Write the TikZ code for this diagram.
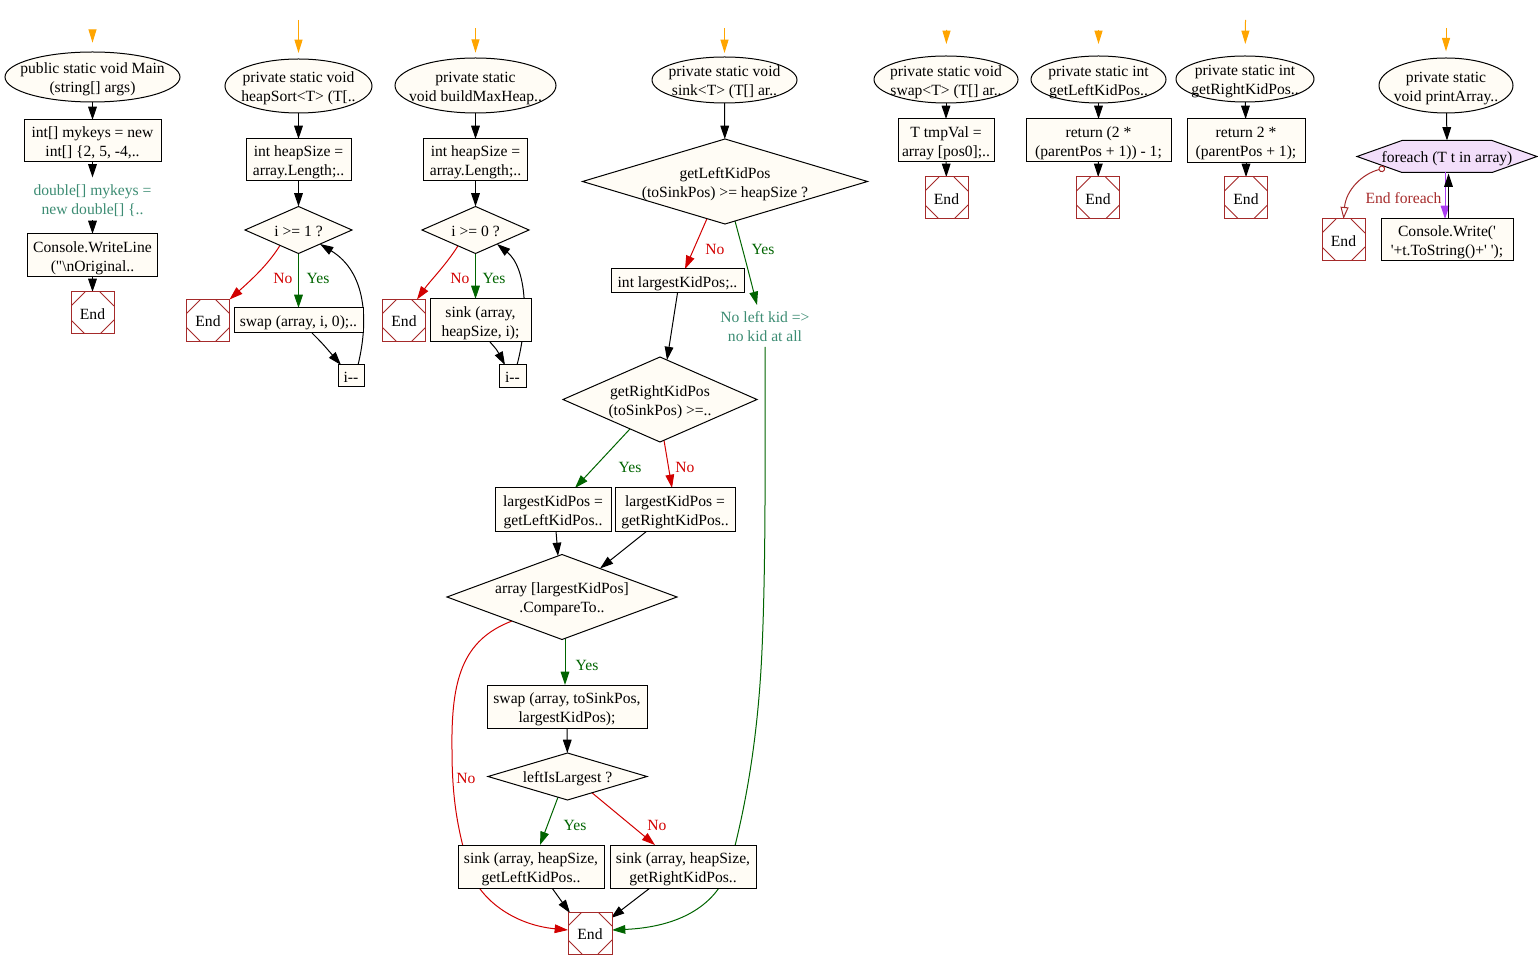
\documentclass[tikz,border=0pt]{standalone}
\usepackage{fontspec}
\setmainfont{Liberation Serif}
\usetikzlibrary{shapes.geometric,arrows.meta,calc}
\pgfdeclarelayer{bg}
\pgfsetlayers{bg,main}
\definecolor{nodefill}{RGB}{255,252,245}
\definecolor{hexfill}{RGB}{242,222,250}
\definecolor{endbrown}{RGB}{165,42,42}
\definecolor{tealtext}{RGB}{60,140,115}
\definecolor{noRed}{RGB}{210,0,0}
\definecolor{yesGreen}{RGB}{0,100,0}
\definecolor{startOrange}{RGB}{255,165,0}
\definecolor{loopPurple}{RGB}{170,60,240}
\newcommand\tx[1]{\raisebox{\dimexpr-0.25em-1.9pt\relax}[0pt][0pt]{\makebox[0pt]{\begin{tabular}{@{}c@{}}#1\end{tabular}}}}
\newcommand\nf{\fontsize{11.7}{14.25}\selectfont}
\tikzset{
  base/.style={inner sep=0pt, outer sep=0pt, font=\nf},
  wh/.style 2 args={minimum width=#1*0.75pt, minimum height=#2*0.75pt},
  box/.style={base, rectangle, draw=black, fill=nodefill, line width=0.75pt},
  ell/.style={base, ellipse, draw=black, fill=nodefill, line width=0.75pt},
  dia/.style={base, diamond, draw=black, fill=nodefill, line width=0.75pt},
  plain/.style={base, text=tealtext},
  lab/.style={base, text=#1},
  endbox/.style={base, rectangle, draw=endbrown, fill=white, line width=0.75pt,
    minimum width=43*0.75pt, minimum height=42*0.75pt,
    path picture={
      \draw[endbrown, line width=0.6pt]
        ([yshift=-10.5pt]path picture bounding box.north west) -- ([xshift=10.5pt]path picture bounding box.north west)
        ([xshift=-10.5pt]path picture bounding box.north east) -- ([yshift=-10.5pt]path picture bounding box.north east)
        ([yshift=10.5pt]path picture bounding box.south east) -- ([xshift=-10.5pt]path picture bounding box.south east)
        ([xshift=10.5pt]path picture bounding box.south west) -- ([yshift=10.5pt]path picture bounding box.south west);}},
  arr/.style={line width=0.75pt, -{Triangle[length=10pt,width=6.5pt]}},
  blk/.style={arr, color=black},
  redE/.style={arr, color=noRed},
  grnE/.style={arr, color=yesGreen},
  oarr/.style={line width=0.75pt, color=startOrange, -{Triangle[length=10pt,width=6pt]}},
}
\begin{document}
\begin{tikzpicture}[x=0.75pt,y=-0.75pt]
\useasboundingbox (0,0) rectangle (1538,969);

% ---------- column 1: Main ----------
\coordinate (s1) at (92.5,30);
\node[ell, wh={175}{50}] (e1) at (92.5,77) {\tx{public static void Main\\(string[] args)}};
\node[box, wh={137}{42}] (b11) at (92.5,141) {\tx{int[] mykeys = new\\int[] \{2, 5, -4,..}};
\node[plain, wh={130}{43}] (t12) at (92.5,199) {\tx{double[] mykeys =\\new double[] \{..}};
\node[box, wh={130}{43}] (b13) at (92.5,255.5) {\tx{Console.WriteLine\\(\textquotedbl\textbackslash nOriginal..}};
\node[endbox] (x1) at (92.5,313) {\tx{End}};

% ---------- column 2: heapSort ----------
\coordinate (s2) at (298.5,20);
\node[ell, wh={147}{54}] (e2) at (298.5,86) {\tx{private static void\\heapSort<T> (T[..}};
\node[box, wh={105}{42}] (b21) at (298.5,160) {\tx{int heapSize =\\array.Length;..}};
\node[dia, wh={107}{47}] (d21) at (298.5,230) {\tx{i >= 1 ?}};
\node[endbox] (x2) at (208,320.5) {\tx{End}};
\node[box, wh={129}{25}] (b22) at (298.5,320.5) {\tx{swap (array, i, 0);..}};
\node[box, wh={26}{22}] (b23) at (351,376) {\tx{i-\kern0pt-}};

% ---------- column 3: buildMaxHeap ----------
\coordinate (s3) at (475.5,28);
\node[ell, wh={161}{55}] (e3) at (475.5,85.5) {\tx{private static\\void buildMaxHeap..}};
\node[box, wh={104}{42}] (b31) at (475.5,160) {\tx{int heapSize =\\array.Length;..}};
\node[dia, wh={107}{47}] (d31) at (475.5,230) {\tx{i >= 0 ?}};
\node[endbox] (x3) at (404,320.5) {\tx{End}};
\node[box, wh={101}{43}] (b32) at (480.5,320.5) {\tx{sink (array,\\heapSize, i);}};
\node[box, wh={27}{23}] (b33) at (512.5,376.5) {\tx{i-\kern0pt-}};

% ---------- column 4: sink ----------
\coordinate (s4) at (724.5,28);
\node[ell, wh={145}{46}] (e4) at (724.5,80) {\tx{private static void\\sink<T> (T[] ar..}};
\node[dia, wh={285}{85}] (d41) at (725,181.5) {\tx{getLeftKidPos\\(toSinkPos) >= heapSize ?}};
\node[box, wh={133}{24}] (b41) at (677.5,281) {\tx{int largestKidPos;..}};
\node[plain, wh={100}{42}] (t41) at (765,326) {\tx{No left kid =>\\no kid at all}};
\node[dia, wh={194}{85}] (d42) at (660,399.5) {\tx{getRightKidPos\\(toSinkPos) >=..}};
\node[box, wh={116}{43}] (b42) at (553,509.5) {\tx{largestKidPos =\\getLeftKidPos..}};
\node[box, wh={120}{43}] (b43) at (675,509.5) {\tx{largestKidPos =\\getRightKidPos..}};
\node[dia, wh={230}{85}] (d43) at (562,597) {\tx{array [largestKidPos]\\.CompareTo..}};
\node[box, wh={160}{43}] (b44) at (567,706.5) {\tx{swap (array, toSinkPos,\\largestKidPos);}};
\node[dia, wh={159}{47}] (d44) at (567.5,776.5) {\tx{leftIsLargest ?}};
\node[box, wh={146}{43}] (b45) at (531,866.5) {\tx{sink (array, heapSize,\\getLeftKidPos..}};
\node[box, wh={146}{43}] (b46) at (683,866.5) {\tx{sink (array, heapSize,\\getRightKidPos..}};
\node[endbox, wh={44}{42}] (x4) at (590,933) {\tx{End}};

% ---------- column 5: swap ----------
\coordinate (s5) at (946.5,30);
\node[ell, wh={144}{47}] (e5) at (946,79.5) {\tx{private static void\\swap<T> (T[] ar..}};
\node[box, wh={96}{43}] (b51) at (946,140.5) {\tx{T tmpVal =\\array [pos0];..}};
\node[endbox] (x5) at (946.5,198) {\tx{End}};

% ---------- column 6: getLeftKidPos ----------
\coordinate (s6) at (1098.5,30);
\node[ell, wh={135}{47}] (e6) at (1098.5,79.5) {\tx{private static int\\getLeftKidPos..}};
\node[box, wh={145}{43}] (b61) at (1098.5,140.5) {\tx{return (2 *\\(parentPos + 1)) - 1;}};
\node[endbox] (x6) at (1098,198) {\tx{End}};

% ---------- column 7: getRightKidPos ----------
\coordinate (s7) at (1245.5,20);
\node[ell, wh={138}{46}] (e7) at (1245,79) {\tx{private static int\\getRightKidPos..}};
\node[box, wh={118}{44}] (b71) at (1246,141) {\tx{return 2 *\\(parentPos + 1);}};
\node[endbox] (x7) at (1246,198) {\tx{End}};

% ---------- column 8: printArray ----------
\coordinate (s8) at (1446,28);
\node[ell, wh={134}{55}] (e8) at (1446,85.5) {\tx{private static\\void printArray..}};
\node[base, wh={180}{32}] (fe) at (1447,156.5) {\tx{foreach (T t in array)}};
\node[box, wh={132}{42}] (b81) at (1447,240) {\tx{Console.Write(\textquotesingle\\\textquotesingle+t.ToString()+\textquotesingle\ \textquotesingle);}};
\node[endbox] (x8) at (1343.5,240) {\tx{End}};

% ---------- edge labels ----------
\node[lab=noRed] (l21) at (283,277.5) {\tx{No}};
\node[lab=yesGreen] (l22) at (318,277.5) {\tx{Yes}};
\node[lab=noRed] (l31) at (460,277.5) {\tx{No}};
\node[lab=yesGreen] (l32) at (494,277.5) {\tx{Yes}};
\node[lab=noRed] (l41) at (715,248) {\tx{No}};
\node[lab=yesGreen] (l42) at (763,248) {\tx{Yes}};
\node[lab=yesGreen] (l43) at (630,466) {\tx{Yes}};
\node[lab=noRed] (l44) at (685,466) {\tx{No}};
\node[lab=yesGreen] (l45) at (587,664) {\tx{Yes}};
\node[lab=noRed] (l46) at (466,777) {\tx{No}};
\node[lab=yesGreen] (l47) at (575,824) {\tx{Yes}};
\node[lab=noRed] (l48) at (657,824) {\tx{No}};
\node[lab=endbrown] (l81) at (1403.5,197) {\tx{End foreach}};

\begin{pgfonlayer}{bg}
% hexagon of the foreach node
\filldraw[fill=hexfill, draw=black, line width=0.75pt]
  (fe.west) -- ($(fe.north west)+(45,0)$) -- ($(fe.north east)+(-45,0)$) -- (fe.east)
  -- ($(fe.south east)+(-45,0)$) -- ($(fe.south west)+(45,0)$) -- cycle;

% start arrows
\draw[oarr, shorten >=7pt] (s1) -- (e1);
\draw[oarr, shorten >=4.5pt] (s2) -- (e2);
\draw[oarr, shorten >=4pt] (s3) -- (e3);
\draw[oarr, shorten >=3pt] (s4) -- (e4);
\draw[oarr, shorten >=9pt] (s5) -- (e5);
\draw[oarr, shorten >=9pt] (s6) -- (e6);
\draw[oarr, shorten >=9pt] (s7) -- (e7);
\draw[oarr, shorten >=5pt] (s8) -- (e8);

% column 1
\draw[blk] (e1) -- (b11);
\draw[blk] (b11) -- (t12);
\draw[blk] (t12) -- (b13);
\draw[blk] (b13) -- (x1);

% column 2
\draw[blk] (e2) -- (b21);
\draw[blk] (b21) -- (d21);
\draw[redE] ($(d21)+(-18.5,15.4)$) .. controls (268,265) and (250,281) .. (x2.north east);
\draw[grnE] (d21.south) -- (b22.north);
\draw[blk] ($(b22.south)+(13.5,0)$) .. controls (322,343) .. ($(b23.north)+(-10,0)$);
\draw[blk] ($(b23.north)+(7,0)$) .. controls (369,320) and (366,272) .. ($(d21)+(21.5,14)$);

% column 3
\draw[blk] (e3) -- (b31);
\draw[blk] (b31) -- (d31);
\draw[redE] ($(d31)+(-17.5,15.8)$) .. controls (446,265) and (430,281) .. ($(x3.north)+(13,0)$);
\draw[grnE] (d31.south) -- (d31.south |- b32.north);
\draw[blk] ($(b32.south)+(9.5,0)$) .. controls (497,350) .. ($(b33.north)+(-7.5,0)$);
\draw[blk] ($(b33.north)+(4.5,0)$) .. controls (529,320) and (527,268) .. ($(d31)+(21.5,14)$);

% column 4
\draw[blk] (e4) -- (d41);
\draw[redE] ($(d41)+(-18,37.1)$) -- ($(b41.north)+(7.5,0)$);
\draw[grnE] ($(d41)+(10,39.5)$) .. controls (746,262) .. ($(t41.north)+(-8,0)$);
\draw[blk] (b41.south) -- ($(d42.north)+(7,3.1)$);
\draw[grnE] ($(d42)+(-30,29.4)$) -- ($(b42.north)+(22,0)$);
\draw[redE] ($(d42)+(4,40.8)$) -- ($(b43.north)+(-3,0)$);
\draw[blk] ($(b42.south)+(3,0)$) -- ($(d43.north)+(-4,1.5)$);
\draw[blk] ($(b43.south)+(-28,0)$) -- ($(d43)+(38,-28.5)$);
\draw[grnE] ($(d43)+(3,41.4)$) -- ($(b44.north)+(-2,0)$);
\draw[blk] (b44) -- (d44);
\draw[grnE] ($(d44)+(-9.5,20.7)$) -- ($(b45.north)+(9,0)$);
\draw[redE] ($(d44)+(24.5,16.3)$) -- ($(b46.north)+(-28,0)$);
\draw[blk] ($(b45.south)+(21,0)$) -- ($(x4.north west)+(2,1)$);
\draw[blk] ($(b46.south)+(-33,0)$) -- ($(x4.north east)+(-1,6)$);
\draw[redE] ($(d43)+(-50,24)$) .. controls (462,640) and (451,680) .. (452,750)
  .. controls (452,800) and (458,830) .. (468,865)
  .. controls (478,900) and (515,925) .. ($(x4.west)+(0,-3)$);
\draw[grnE] (t41.south) .. controls (765,450) and (766,560) .. (762,650)
  .. controls (758,740) and (745,810) .. (730,865)
  .. controls (718,905) and (680,927) .. ($(x4.east)+(0,-3)$);

% columns 5-7
\draw[blk] (e5) -- (b51);
\draw[blk] (b51) -- (x5);
\draw[blk] (e6) -- (b61);
\draw[blk] (b61) -- (x6);
\draw[blk] (e7) -- (b71);
\draw[blk] (b71) -- (x7);

% column 8
\draw[blk] (e8) -- (fe.north);
\draw[arr, color=loopPurple] ($(fe.south)+(-2,0)$) -- ($(b81.north)+(-2,0)$);
\draw[blk] ($(b81.north)+(1.5,0)$) -- ($(fe.south)+(1.5,1)$);
\draw[line width=0.75pt, color=endbrown, {Circle[open,length=5pt]}-{Triangle[open,length=9pt,width=6pt]}]
  ($(fe)+(-62,11.5)$) .. controls (1362,174) and (1346,190) .. (x8.north);
\end{pgfonlayer}
\end{tikzpicture}
\end{document}
